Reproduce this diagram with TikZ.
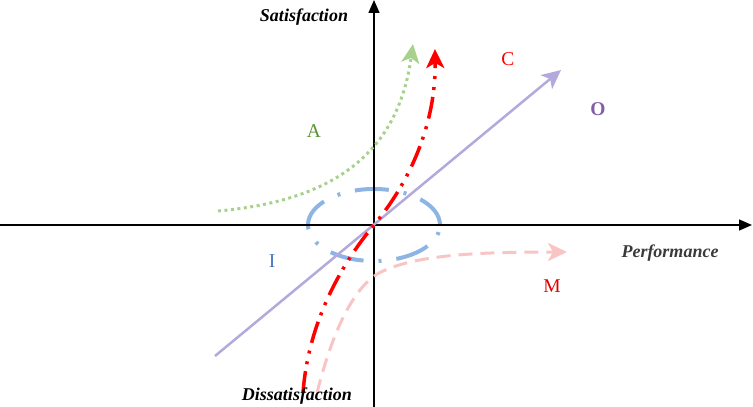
\documentclass[tikz,border=0pt]{standalone}
\usepackage{fontspec}
\setmainfont{Liberation Serif}
\usepackage{xcolor}
\usepackage{tikz}
\usetikzlibrary{arrows.meta, positioning}

\definecolor{attrgreen}{HTML}{A9D18E}
\definecolor{attrgreentext}{HTML}{54932F}
\definecolor{onedimpurple}{HTML}{B4A9DC}
\definecolor{onedimtext}{HTML}{7F60A8}
\definecolor{mustpink}{HTML}{F8C4C4}
\definecolor{indiffblue}{HTML}{8EB4E3}
\definecolor{indifftext}{HTML}{4472C4}
\definecolor{perfgray}{HTML}{3A3A3A}

\begin{document}
\begin{tikzpicture}[
    x=1pt, y=1pt,
    >=Stealth,
    axis/.style={-{Triangle[length=13pt, width=11pt]}, line width=1.5pt, black},
    axislabel/.style={font=\fontsize{18}{20}\selectfont\bfseries\itshape, anchor=base},
    curvelabel/.style={font=\fontsize{19.5}{21}\selectfont, anchor=base},
    tip/.style={-{Stealth[length=19pt, width=18pt, inset=5pt]}},
]

\useasboundingbox (-374,-182) rectangle (379,225);

% --- Reference points ---
\coordinate (o) at (0,0);
\coordinate (xstart) at (-374,0);
\coordinate (xend) at (378,0);
\coordinate (ystart) at (0,-182);
\coordinate (yend) at (0,225);

% --- Indifferent zone ---
\draw[indiffblue, line width=4pt, dash pattern=on 34pt off 15pt on 3pt off 15pt]
    (o) ellipse [x radius=66, y radius=36];

% --- Axes ---
\draw[axis] (xstart) -- (xend);
\draw[axis] (ystart) -- (yend);

% --- One-dimensional ---
\coordinate (os) at (-159,-131);
\coordinate (oe) at (187,155);
\draw[tip, onedimpurple, line width=2.5pt] (os) -- (oe);

% --- Attractive ---
\coordinate (as) at (-156,14);
\coordinate (ae) at (39,181);
\draw[tip, attrgreen, line width=3pt, dash pattern=on 3pt off 3.5pt]
    (as) .. controls (-30,25) and (25,80) .. (ae);

% --- Must-be ---
\coordinate (ms) at (-57,-168);
\coordinate (mm) at (5,-48);
\coordinate (me) at (193,-27);
\draw[tip, mustpink, line width=3pt, dash pattern=on 14pt off 8pt]
    (ms) .. controls (-45,-120) and (-25,-65) .. (mm)
         .. controls (40,-30) and (100,-27) .. (me);

% --- Competitive ---
\coordinate (cs) at (-71,-168);
\coordinate (ce) at (61,176);
\draw[tip, red, line width=3.5pt, dash pattern=on 22pt off 7pt on 3pt off 8pt on 3pt off 8pt]
    (cs) .. controls (-66,-100) and (-35,-42) .. (o)
         .. controls (35,42) and (62,100) .. (ce);

% --- Axis labels ---
\node[axislabel] (sat) at (-70,203) {Satisfaction};
\node[axislabel] (dissat) at (-77,-175) {Dissatisfaction};
\node[axislabel, perfgray] (perf) at (296,-32) {Performance};

% --- Category labels ---
\node[curvelabel, attrgreentext] (labA) at (-60,87) {A};
\node[curvelabel, red] (labC) at (134,159) {C};
\node[curvelabel, onedimtext, font=\fontsize{19.5}{21}\selectfont\bfseries] (labO) at (224,109) {O};
\node[curvelabel, indifftext] (labI) at (-102,-42) {I};
\node[curvelabel, red!90!black] (labM) at (178,-67) {M};

\end{tikzpicture}
\end{document}
